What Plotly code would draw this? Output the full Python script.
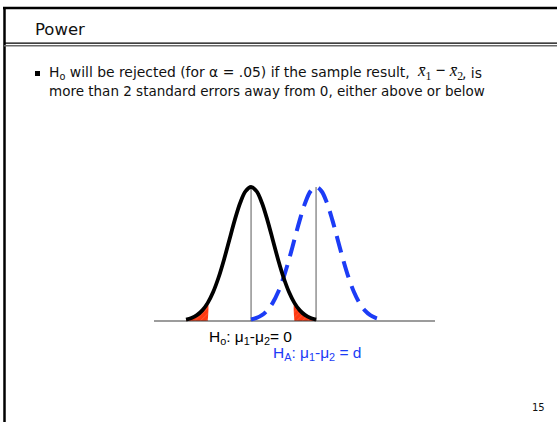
import plotly.graph_objects as go

# ---- data ----
# standard-error units; null curve centred at 0, alternative centred at d
z_points = [-3.0, -2.75, -2.5, -2.25, -2.0, -1.75, -1.5, -1.25, -1.0, -0.75, -0.5, -0.25,
            0.0, 0.25, 0.5, 0.75, 1.0, 1.25, 1.5, 1.75, 2.0, 2.25, 2.5, 2.75, 3.0]
density = [0.0044, 0.0091, 0.0175, 0.0317, 0.0540, 0.0863, 0.1295, 0.1826, 0.2420, 0.3011,
           0.3521, 0.3867, 0.3989, 0.3867, 0.3521, 0.3011, 0.2420, 0.1826, 0.1295, 0.0863,
           0.0540, 0.0317, 0.0175, 0.0091, 0.0044]
d_shift = 3.0
left_tail_x = [-3.0, -2.75, -2.5, -2.25, -2.0]
left_tail_y = [0.0044, 0.0091, 0.0175, 0.0317, 0.0540]
right_tail_x = [2.0, 2.25, 2.5, 2.75, 3.0]
right_tail_y = [0.0540, 0.0317, 0.0175, 0.0091, 0.0044]
axis_x = [-4.48, 8.49]
peak = 0.3989

title_text = "Power"
bullet_line1a = "H<sub>o</sub> will be rejected (for α = .05) if the sample result,"
bullet_line1_math = "<i>x̄</i><sub>1</sub> <b>−</b> <i>x̄</i><sub>2</sub>"
bullet_line1b = ", is"
bullet_line2 = "more than 2 standard errors away from 0, either above or below"
label_h0 = "H<sub>o</sub>: μ<sub>1</sub>-μ<sub>2</sub>= 0"
label_ha = "H<sub>A</sub>: μ<sub>1</sub>-μ<sub>2</sub> = d"
page_number = "15"

W, H = 557, 422
BLUE = "#1c3cf6"
RED = "#ff3a12"


def px(x):
    return x / W


def py(y):
    return 1 - y / H


fig = go.Figure()

# rejection-region tails
for tx, ty in [(left_tail_x, left_tail_y), (right_tail_x, right_tail_y)]:
    fig.add_trace(go.Scatter(
        x=[tx[0]] + tx + [tx[-1]], y=[0] + ty + [0],
        mode="lines", line=dict(width=0, shape="spline"), fill="toself",
        fillcolor=RED,
        fillpattern=dict(shape="/", bgcolor=RED, fgcolor="#ff8a6a", size=4, solidity=0.2),
        hoverinfo="skip", showlegend=False))

# vertical lines at the two means
for m in [0.0, d_shift]:
    fig.add_trace(go.Scatter(x=[m, m], y=[0, peak], mode="lines",
                             line=dict(color="#5a5a5a", width=1),
                             hoverinfo="skip", showlegend=False))

# axis line
fig.add_trace(go.Scatter(x=axis_x, y=[0, 0], mode="lines",
                         line=dict(color="#3a3a3a", width=1.2),
                         hoverinfo="skip", showlegend=False))

# alternative (dashed blue)
fig.add_trace(go.Scatter(x=[z + d_shift for z in z_points], y=density, mode="lines",
                         line=dict(color=BLUE, width=4, dash="17px,9px", shape="spline"),
                         hoverinfo="skip", showlegend=False))

# null (solid black)
fig.add_trace(go.Scatter(x=z_points, y=density, mode="lines",
                         line=dict(color="black", width=3.8, shape="spline"),
                         hoverinfo="skip", showlegend=False))

# slide decorations
shapes = [
    dict(type="line", xref="paper", yref="paper", x0=px(3), x1=px(W), y0=py(8), y1=py(8),
         line=dict(color="black", width=2.5)),
    dict(type="line", xref="paper", yref="paper", x0=px(4.5), x1=px(4.5), y0=py(7), y1=py(H),
         line=dict(color="black", width=2.5)),
    dict(type="line", xref="paper", yref="paper", x0=px(4), x1=px(W), y0=py(43.2), y1=py(43.2),
         line=dict(color="black", width=1.2)),
    dict(type="line", xref="paper", yref="paper", x0=px(4), x1=px(W), y0=py(45.8), y1=py(45.8),
         line=dict(color="#6a6a6a", width=1.6)),
    dict(type="rect", xref="paper", yref="paper", x0=px(35), x1=px(40), y0=py(71), y1=py(76),
         fillcolor="black", line=dict(width=0)),
]

TXT = "#111111"
annotations = [
    dict(text=title_text, x=px(33), y=py(30), xref="paper", yref="paper",
         xanchor="left", yanchor="middle", showarrow=False,
         font=dict(family="DejaVu Sans", size=16.5, color=TXT)),
    dict(text=bullet_line1a, x=px(47), y=py(73), xref="paper", yref="paper",
         xanchor="left", yanchor="middle", showarrow=False,
         font=dict(family="DejaVu Sans", size=13.9, color=TXT)),
    dict(text=bullet_line1_math, x=px(415), y=py(72), xref="paper", yref="paper",
         xanchor="left", yanchor="middle", showarrow=False,
         font=dict(family="Liberation Serif", size=17, color=TXT)),
    dict(text=bullet_line1b, x=px(460), y=py(73), xref="paper", yref="paper",
         xanchor="left", yanchor="middle", showarrow=False,
         font=dict(family="DejaVu Sans", size=13.9, color=TXT)),
    dict(text=bullet_line2, x=px(47), y=py(90.5), xref="paper", yref="paper",
         xanchor="left", yanchor="middle", showarrow=False,
         font=dict(family="DejaVu Sans", size=13.5, color=TXT)),
    dict(text=label_h0, x=px(207), y=py(337), xref="paper", yref="paper",
         xanchor="left", yanchor="middle", showarrow=False,
         font=dict(family="Liberation Sans", size=15.5, color="black")),
    dict(text=label_ha, x=px(271), y=py(353), xref="paper", yref="paper",
         xanchor="left", yanchor="middle", showarrow=False,
         font=dict(family="Liberation Sans", size=15.5, color=BLUE)),
    dict(text=page_number, x=px(538), y=py(407), xref="paper", yref="paper",
         xanchor="center", yanchor="middle", showarrow=False,
         font=dict(family="DejaVu Sans", size=10, color=TXT)),
]

fig.update_layout(
    width=W, height=H,
    margin=dict(l=0, r=0, t=0, b=0),
    paper_bgcolor="white", plot_bgcolor="rgba(0,0,0,0)",
    xaxis=dict(domain=[px(154), px(435)], range=axis_x, visible=False, fixedrange=True),
    yaxis=dict(domain=[py(325), py(175)], range=[-0.0119, 0.4347], visible=False, fixedrange=True),
    shapes=shapes, annotations=annotations,
    showlegend=False,
)

fig.write_html("out.html", config={"displayModeBar": False},
               post_script="document.body.style.margin='0';document.body.style.overflow='hidden';")
